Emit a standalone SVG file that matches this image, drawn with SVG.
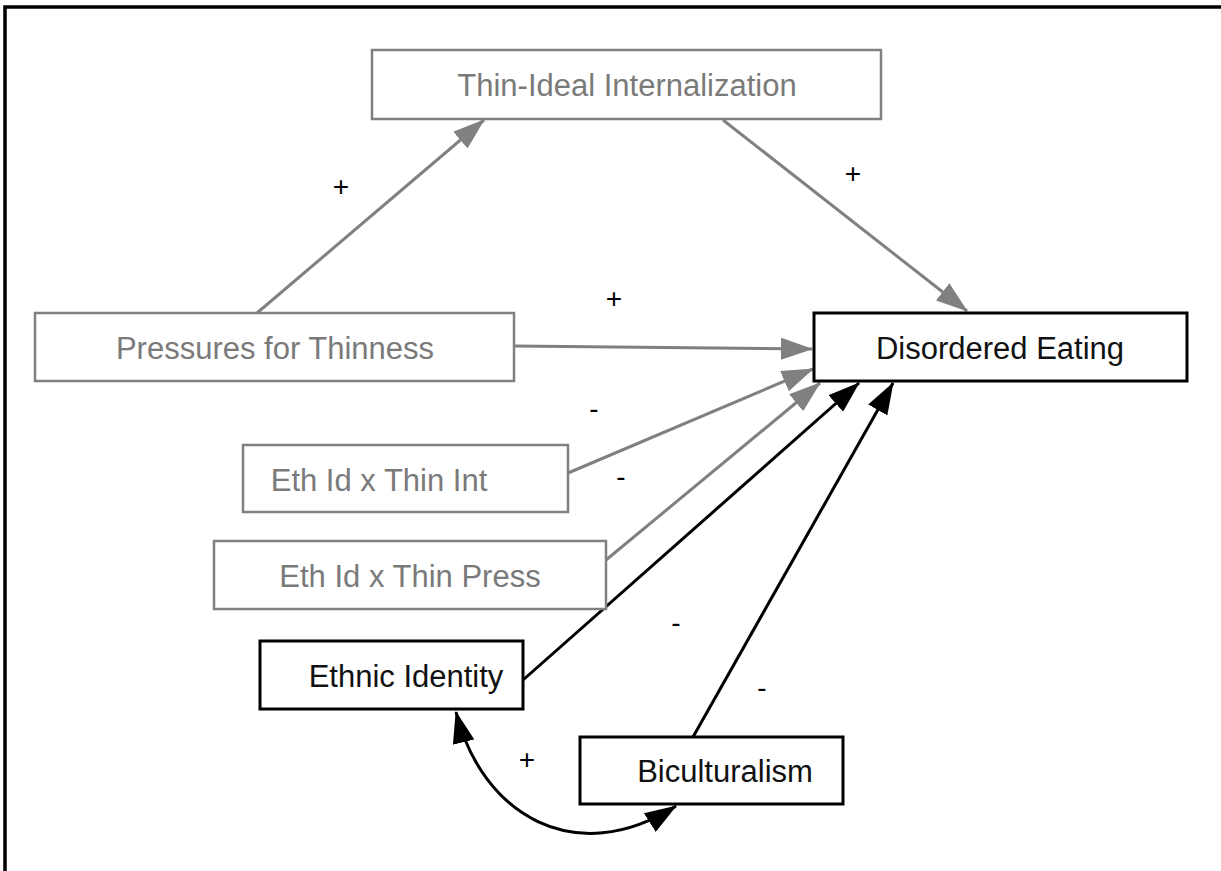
<svg xmlns="http://www.w3.org/2000/svg" width="1221" height="871" viewBox="0 0 1221 871">
  <style>
    .box-gray { fill: #ffffff; stroke: #808080; stroke-width: 2.5; }
    .box-black { fill: #ffffff; stroke: #000000; stroke-width: 3; }
    .lbl { font-family: "Liberation Sans", Arial, sans-serif; font-size: 31px; text-anchor: middle; dominant-baseline: central; }
    .lbl-gray { fill: #7a7a7a; }
    .lbl-black { fill: #111111; }
    .edge-gray { fill: none; stroke: #808080; stroke-width: 3; }
    .edge-black { fill: none; stroke: #000000; stroke-width: 3; }
    .sign { font-family: "Liberation Sans", Arial, sans-serif; font-size: 28px; fill: #000000; text-anchor: middle; dominant-baseline: central; }
  </style>
  <defs>
    <marker id="head-gray" markerUnits="userSpaceOnUse" markerWidth="32" markerHeight="22" viewBox="0 0 32 22" refX="31" refY="11" orient="auto">
      <path d="M0,0 L32,11 L0,22 Z" fill="#808080"/>
    </marker>
    <marker id="head-black" markerUnits="userSpaceOnUse" markerWidth="32" markerHeight="22" viewBox="0 0 32 22" refX="31" refY="11" orient="auto-start-reverse">
      <path d="M0,0 L32,11 L0,22 Z" fill="#000000"/>
    </marker>
  </defs>

  <rect x="0" y="0" width="1221" height="871" fill="#ffffff"/>
  <!-- frame -->
  <path d="M1221,7 L5,7 L5,871" fill="none" stroke="#000000" stroke-width="3.5"/>

  <g id="connectors">
    <line class="edge-gray" x1="257" y1="313" x2="484" y2="120" marker-end="url(#head-gray)"/>
    <line class="edge-gray" x1="723" y1="120" x2="967" y2="311" marker-end="url(#head-gray)"/>
    <line class="edge-gray" x1="514" y1="346" x2="812" y2="349" marker-end="url(#head-gray)"/>
    <line class="edge-gray" x1="568" y1="473" x2="813" y2="369" marker-end="url(#head-gray)"/>
    <line class="edge-gray" x1="606" y1="560" x2="820" y2="383" marker-end="url(#head-gray)"/>
    <line class="edge-black" x1="523" y1="680" x2="859" y2="383" marker-end="url(#head-black)"/>
    <line class="edge-black" x1="693" y1="737" x2="893" y2="383" marker-end="url(#head-black)"/>
    <path class="edge-black" d="M456,712 C482,815 575,870 676,806" marker-start="url(#head-black)" marker-end="url(#head-black)"/>
  </g>

  <g id="signs">
    <text class="sign" x="341" y="186">+</text>
    <text class="sign" x="853" y="173">+</text>
    <text class="sign" x="614" y="298">+</text>
    <text class="sign" x="527" y="759">+</text>
    <text class="sign" x="594" y="408">-</text>
    <text class="sign" x="621" y="476">-</text>
    <text class="sign" x="676" y="622">-</text>
    <text class="sign" x="762" y="687">-</text>
  </g>

  <g id="thin-ideal-internalization">
    <rect class="box-gray" x="372" y="50" width="509" height="69"/>
    <text class="lbl lbl-gray" x="627" y="85">Thin-Ideal Internalization</text>
  </g>
  <g id="pressures-for-thinness">
    <rect class="box-gray" x="35" y="313" width="479" height="68"/>
    <text class="lbl lbl-gray" x="275" y="348">Pressures for Thinness</text>
  </g>
  <g id="disordered-eating">
    <rect class="box-black" x="814" y="313" width="373" height="68"/>
    <text class="lbl lbl-black" x="1000" y="348">Disordered Eating</text>
  </g>
  <g id="eth-id-x-thin-int">
    <rect class="box-gray" x="243" y="445" width="325" height="67"/>
    <text class="lbl lbl-gray" x="379" y="480">Eth Id x Thin Int</text>
  </g>
  <g id="eth-id-x-thin-press">
    <rect class="box-gray" x="214" y="541" width="392" height="68"/>
    <text class="lbl lbl-gray" x="410" y="576">Eth Id x Thin Press</text>
  </g>
  <g id="ethnic-identity">
    <rect class="box-black" x="260" y="641" width="263" height="68"/>
    <text class="lbl lbl-black" x="406" y="676">Ethnic Identity</text>
  </g>
  <g id="biculturalism">
    <rect class="box-black" x="580" y="737" width="263" height="67"/>
    <text class="lbl lbl-black" x="725" y="771">Biculturalism</text>
  </g>
</svg>
